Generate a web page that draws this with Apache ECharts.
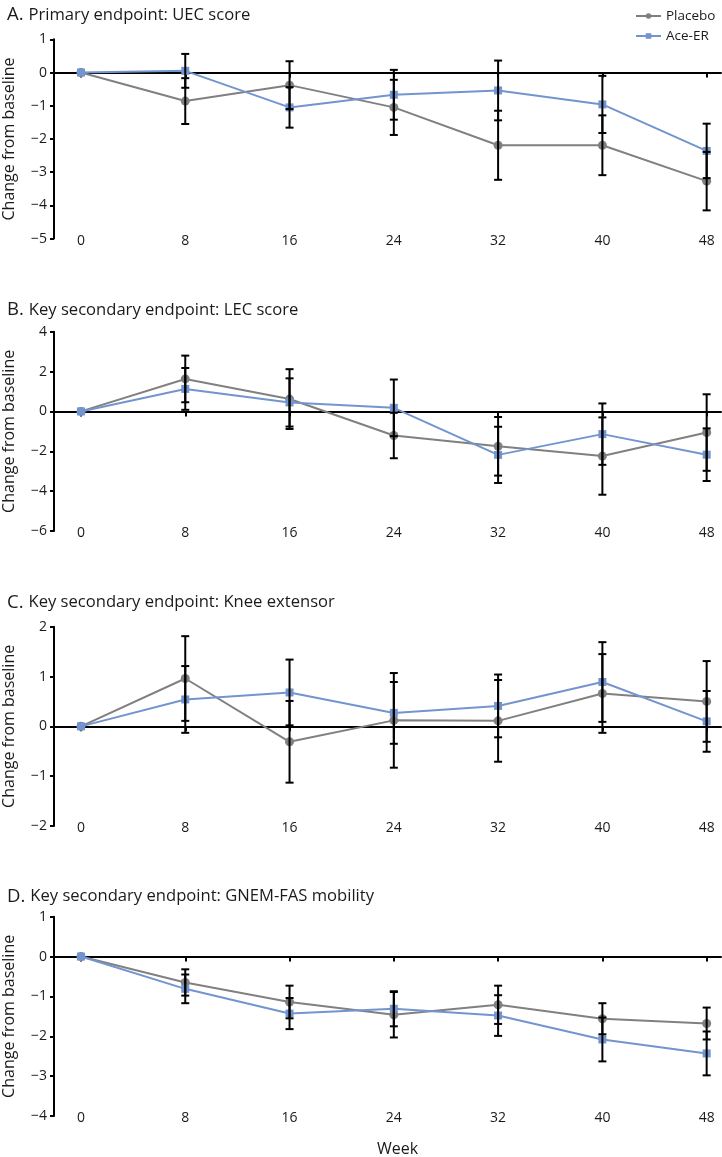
<!DOCTYPE html>
<html><head><meta charset="utf-8">
<script src="https://cdn.jsdelivr.net/npm/echarts@6/dist/echarts.min.js"></script>
<style>html,body{margin:0;padding:0;background:#fff}#c{width:722px;height:1157px}</style>
</head><body><div id="c"></div>
<script>
// ---------- data ----------
const weeks = [0, 8, 16, 24, 32, 40, 48];
const xTickValues = [0, 8, 16, 24, 32, 40, 48];
const panelLetters = ['A.', 'B.', 'C.', 'D.'];
const panelTitles = [
  'Primary endpoint: UEC score',
  'Key secondary endpoint: LEC score',
  'Key secondary endpoint: Knee extensor',
  'Key secondary endpoint: GNEM-FAS mobility'
];
const seriesNames = ['Placebo', 'Ace-ER'];
const yAxisTitle = 'Change from baseline';
const xAxisTitle = 'Week';

// Panel A: UEC score
const placeboA    = [0, -0.86, -0.38, -1.05, -2.19, -2.19, -3.27];
const placeboAErr = [0,  0.69,  0.72,  0.83,  1.04,  0.90,  0.88];
const aceA        = [0,  0.05, -1.05, -0.67, -0.54, -0.96, -2.36];
const aceAErr     = [0,  0.51,  0.61,  0.75,  0.90,  0.86,  0.82];
// Panel B: LEC score
const placeboB    = [0,  1.63,  0.62, -1.21, -1.75, -2.24, -1.06];
const placeboBErr = [0,  1.17,  1.50,  1.14,  1.47,  1.94,  1.92];
const aceB        = [0,  1.13,  0.45,  0.18, -2.18, -1.14, -2.17];
const aceBErr     = [0,  1.05,  1.21,  1.42,  1.41,  1.54,  1.32];
// Panel C: Knee extensor
const placeboC    = [0,  0.96, -0.31,  0.12,  0.11,  0.66,  0.50];
const placeboCErr = [0,  0.85,  0.82,  0.95,  0.82,  0.79,  0.81];
const aceC        = [0,  0.54,  0.68,  0.27,  0.41,  0.89,  0.10];
const aceCErr     = [0,  0.67,  0.66,  0.62,  0.63,  0.80,  0.61];
// Panel D: GNEM-FAS mobility
const placeboD    = [0, -0.65, -1.14, -1.46, -1.21, -1.56, -1.68];
const placeboDErr = [0,  0.33,  0.41,  0.57,  0.48,  0.39,  0.40];
const aceD        = [0, -0.81, -1.43, -1.31, -1.48, -2.08, -2.43];
const aceDErr     = [0,  0.36,  0.39,  0.44,  0.51,  0.55,  0.55];

const yMins  = [-5, -6, -2, -4];
const yMaxs  = [1, 4, 2, 1];
const ySteps = [1, 2, 1, 1];

// ---------- layout / style ----------
const FONT = "'Open Sans', 'Noto Sans', sans-serif";
const TXT = '#1a1a1a';
const GRAY = '#808080';
const BLUE = '#7295cf';
const gridTops = [39.3, 331.7, 626.7, 916.7];
const gridH = 199.3;
const titleTops = [0.5, 295.5, 588, 882];

const panels = [
  [placeboA, placeboAErr, aceA, aceAErr],
  [placeboB, placeboBErr, aceB, aceBErr],
  [placeboC, placeboCErr, aceC, aceCErr],
  [placeboD, placeboDErr, aceD, aceDErr]
];

function errRender(params, api) {
  const x = api.value(0), lo = api.value(1), hi = api.value(2);
  const p1 = api.coord([x, hi]), p2 = api.coord([x, lo]);
  const w = 4;
  const st = { stroke: '#000', lineWidth: 2 };
  return { type: 'group', children: [
    { type: 'line', shape: { x1: p1[0], y1: p1[1], x2: p2[0], y2: p2[1] }, style: st },
    { type: 'line', shape: { x1: p1[0] - w, y1: p1[1], x2: p1[0] + w, y2: p1[1] }, style: st },
    { type: 'line', shape: { x1: p2[0] - w, y1: p2[1], x2: p2[0] + w, y2: p2[1] }, style: st }
  ]};
}
const minusFmt = v => String(v).replace('-', '\u2212');

const grid = [], xAxis = [], yAxis = [], series = [], title = [];
panels.forEach((p, i) => {
  grid.push({ left: 54, right: 1, top: gridTops[i], height: gridH, containLabel: false, outerBoundsMode: 'none' });
  // label-only axis at bottom
  xAxis.push({
    type: 'value', gridIndex: i, min: -2.07, max: 49.1, position: 'bottom',
    axisLine: { show: false, onZero: false }, axisTick: { show: false }, splitLine: { show: false },
    axisLabel: { customValues: xTickValues, margin: -5, fontSize: 14, fontFamily: FONT, color: TXT }
  });
  // zero line axis with ticks
  xAxis.push({
    type: 'value', gridIndex: i, min: -2.07, max: 49.1, position: 'bottom',
    axisLine: { show: true, onZero: true, lineStyle: { color: '#000', width: 2 } },
    axisTick: { show: true, customValues: xTickValues, length: 5, lineStyle: { color: '#000', width: 2 } },
    axisLabel: { show: false }, splitLine: { show: false }
  });
  yAxis.push({
    type: 'value', gridIndex: i, min: yMins[i], max: yMaxs[i], interval: ySteps[i],
    axisLine: { show: true, onZero: false, lineStyle: { color: '#000', width: 2 } },
    axisTick: { show: true, length: 4, lineStyle: { color: '#000', width: 2 } },
    splitLine: { show: false },
    axisLabel: { margin: 7, fontSize: 14, fontFamily: FONT, color: TXT, formatter: minusFmt },
    name: yAxisTitle, nameLocation: 'middle', nameRotate: 90, nameGap: 37,
    nameTextStyle: { fontSize: 16, fontFamily: FONT, color: TXT }
  });
  const [pl, plE, ac, acE] = p;
  const xi = i * 2 + 1;
  series.push({
    name: seriesNames[0], type: 'line', xAxisIndex: xi, yAxisIndex: i,
    data: weeks.map((w, k) => [w, pl[k]]),
    symbol: 'circle', symbolSize: 9, lineStyle: { color: GRAY, width: 2 },
    itemStyle: { color: GRAY }, z: 2
  });
  series.push({
    name: seriesNames[1], type: 'line', xAxisIndex: xi, yAxisIndex: i,
    data: weeks.map((w, k) => [w, ac[k]]),
    symbol: 'rect', symbolSize: 8, lineStyle: { color: BLUE, width: 2 },
    itemStyle: { color: BLUE }, z: 3
  });
  const errData = [];
  weeks.forEach((w, k) => {
    if (plE[k] > 0) errData.push([w, pl[k] - plE[k], pl[k] + plE[k]]);
    if (acE[k] > 0) errData.push([w, ac[k] - acE[k], ac[k] + acE[k]]);
  });
  series.push({
    type: 'custom', xAxisIndex: xi, yAxisIndex: i, renderItem: errRender,
    data: errData, encode: { x: 0, y: [1, 2] }, z: 4, silent: true
  });
  title.push({
    left: 2, top: titleTops[i],
    text: '{l|' + panelLetters[i] + '} {t|' + panelTitles[i] + '}',
    textStyle: { fontWeight: 'normal', rich: {
      l: { fontSize: 18.5, fontWeight: 'normal', fontFamily: FONT, color: TXT },
      t: { fontSize: 16.6, fontWeight: 'normal', fontFamily: FONT, color: TXT }
    } }
  });
});

const chart = echarts.init(document.getElementById('c'), null, { renderer: 'canvas' });
chart.setOption({
  animation: false,
  backgroundColor: '#fff',
  title,
  legend: {
    data: seriesNames, orient: 'vertical', left: 630, top: 4,
    itemWidth: 25, itemHeight: 7, itemGap: 6,
    textStyle: { fontSize: 13.5, fontFamily: FONT, color: TXT }
  },
  grid, xAxis, yAxis, series,
  graphic: [{
    type: 'text', x: 397.5, y: 1149,
    style: { text: xAxisTitle, font: '16px ' + FONT, fill: TXT, align: 'center', verticalAlign: 'middle' }
  }]
});
</script></body></html>
